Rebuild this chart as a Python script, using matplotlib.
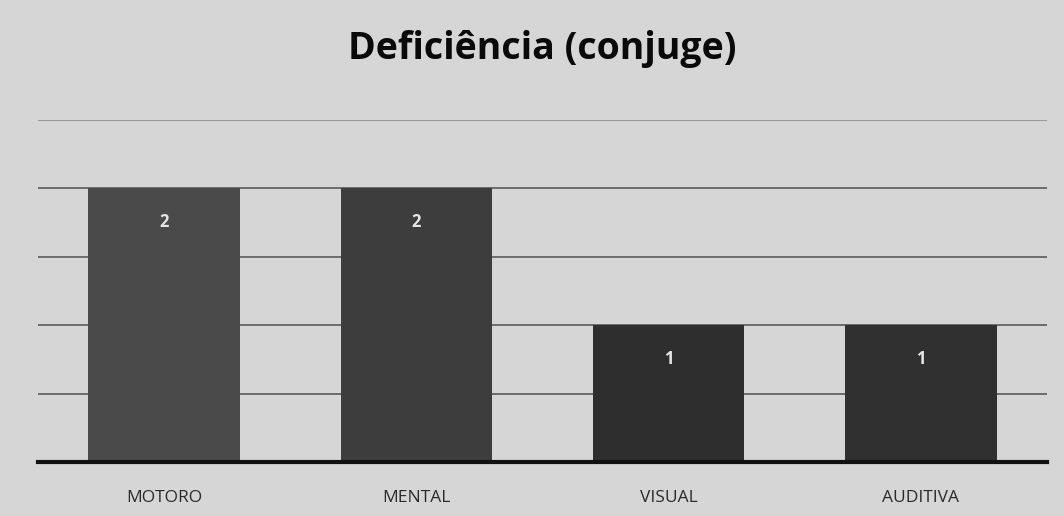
import matplotlib
matplotlib.use("Agg")
import matplotlib.pyplot as plt

# Data
categorias = ["MOTORO", "MENTAL", "VISUAL", "AUDITIVA"]
valores = [2, 2, 1, 1]
cores = ["#4a4a4a", "#3d3d3d", "#2e2e2e", "#303030"]

fig = plt.figure(figsize=(10.64, 5.16), dpi=100)
fig.patch.set_facecolor("#d6d6d6")
ax = fig.add_axes([0.0357, 0.1047, 0.9483, 0.6628])
ax.set_facecolor("none")

x = range(len(categorias))
bars = ax.bar(x, valores, width=0.6, color=cores, zorder=3)

# value labels inside the top of each bar
for b, v in zip(bars, valores):
    ax.annotate(str(v), (b.get_x() + b.get_width() / 2, v),
                xytext=(0, -24), textcoords="offset points",
                ha="center", va="center", color="#e6e6e6",
                fontsize=12, fontweight="bold", family="Open Sans", zorder=4)

ax.set_xlim(-0.5, len(categorias) - 0.5)
ax.set_ylim(0, 2.5)
ax.set_yticks([0.5, 1.0, 1.5, 2.0])
ax.yaxis.grid(True, color="#5a5a5a", linewidth=1.2, zorder=0)
ax.axhline(2.5, color="#9a9a9a", linewidth=0.8, zorder=0)
ax.tick_params(left=False, labelleft=False, bottom=False)
ax.set_xticks(list(x))
ax.set_xticklabels(categorias, fontsize=12.5, color="#2a2a2a", family="Open Sans")
ax.tick_params(axis="x", pad=17)

for s in ["top", "left", "right"]:
    ax.spines[s].set_visible(False)
ax.spines["bottom"].set_color("#111111")
ax.spines["bottom"].set_linewidth(3)
ax.spines["bottom"].set_zorder(5)

fig.text(0.51, 0.905, "Deficiência (conjuge)", ha="center", va="center",
         fontsize=27, fontweight="bold", family="Open Sans", color="#0a0a0a")

fig.savefig("out.png", dpi=100, facecolor=fig.get_facecolor())
